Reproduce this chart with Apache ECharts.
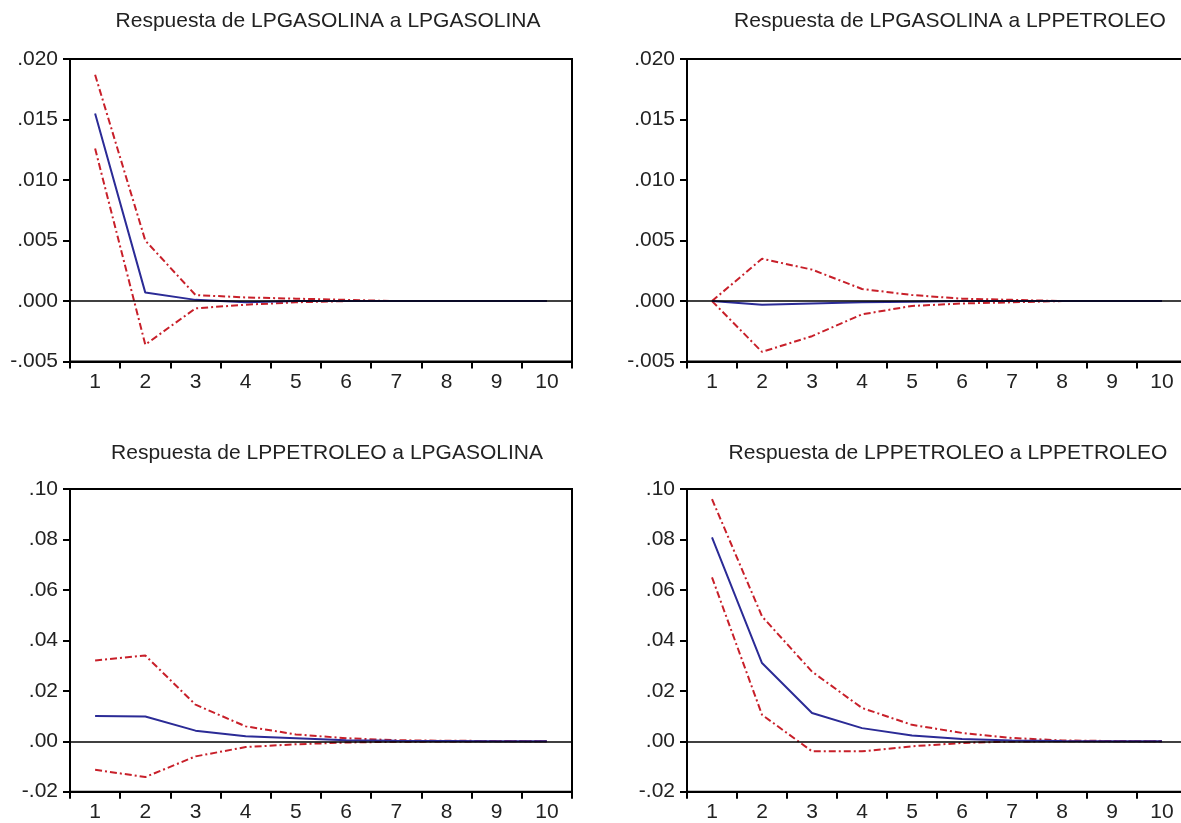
<!DOCTYPE html>
<html>
<head>
<meta charset="utf-8">
<script src="https://cdn.jsdelivr.net/npm/echarts@6/dist/echarts.min.js"></script>
<style>
html,body{margin:0;padding:0;background:#fff;overflow:hidden;}
#chart{width:1192px;height:823px;}
</style>
</head>
<body>
<div id="chart"></div>
<script>
// Periods
var periods = ['1','2','3','4','5','6','7','8','9','10'];

// Titles
var titles = [
  'Respuesta de LPGASOLINA a LPGASOLINA',
  'Respuesta de LPGASOLINA a LPPETROLEO',
  'Respuesta de LPPETROLEO a LPGASOLINA',
  'Respuesta de LPPETROLEO a LPPETROLEO'
];

// Panel 1: LPGASOLINA a LPGASOLINA
var gasGasResp = [0.0155, 0.0007, 0.0001, -0.0001, 0.0000, 0.0000, 0, 0, 0, 0];
var gasGasUp   = [0.0187, 0.0050, 0.0005, 0.0003, 0.0002, 0.0001, 0, 0, 0, 0];
var gasGasLo   = [0.0126, -0.0036, -0.0006, -0.0003, -0.0001, 0, 0, 0, 0, 0];

// Panel 2: LPGASOLINA a LPPETROLEO
var gasPetResp = [0, -0.0003, -0.0002, -0.0001, -0.00005, 0, 0, 0, 0, 0];
var gasPetUp   = [0, 0.0035, 0.0026, 0.0010, 0.0005, 0.0002, 0.0001, 0, 0, 0];
var gasPetLo   = [0, -0.0042, -0.0029, -0.0011, -0.0004, -0.0002, -0.0001, 0, 0, 0];

// Panel 3: LPPETROLEO a LPGASOLINA
var petGasResp = [0.0100, 0.0098, 0.0042, 0.0020, 0.0012, 0.0004, 0.0002, 0.0001, 0, 0];
var petGasUp   = [0.0320, 0.0340, 0.0145, 0.0059, 0.0027, 0.0012, 0.0004, 0.0002, 0.0001, 0];
var petGasLo   = [-0.0113, -0.0142, -0.0060, -0.0023, -0.0012, -0.0005, -0.0002, -0.0001, 0, 0];

// Panel 4: LPPETROLEO a LPPETROLEO
var petPetResp = [0.0808, 0.0310, 0.0112, 0.0052, 0.0023, 0.0009, 0.0003, 0.0001, 0, 0];
var petPetUp   = [0.0960, 0.0495, 0.0276, 0.0132, 0.0065, 0.0033, 0.0013, 0.0003, 0.0001, 0];
var petPetLo   = [0.0650, 0.0105, -0.0040, -0.0040, -0.0020, -0.0007, -0.0001, 0, 0, 0];

// Y axis settings
var topMin = -0.005, topMax = 0.020, topStep = 0.005;
var botMin = -0.02, botMax = 0.10, botStep = 0.02;

var panels = [
  {resp: gasGasResp, up: gasGasUp, lo: gasGasLo},
  {resp: gasPetResp, up: gasPetUp, lo: gasPetLo},
  {resp: petGasResp, up: petGasUp, lo: petGasLo},
  {resp: petPetResp, up: petPetUp, lo: petPetLo}
];

var FONT = 'Liberation Sans, Arial, sans-serif';
var grids = [
  {left: 70, top: 59, width: 502, height: 302.6},
  {left: 687, top: 59, width: 500, height: 302.6},
  {left: 70, top: 489, width: 502, height: 302.7},
  {left: 687, top: 489, width: 500, height: 302.7}
];
var titlePos = [
  {left: 323, top: 6},
  {left: 945, top: 6},
  {left: 322, top: 438},
  {left: 943, top: 438}
];

function fmt(dec) {
  return function (v) {
    var s = (Math.round(v * 1e6) / 1e6).toFixed(dec);
    return s.replace('0.', '.');
  };
}

var option = {
  backgroundColor: '#ffffff',
  animation: false,
  title: titles.map(function (t, i) {
    return {
      text: t,
      left: titlePos[i].left,
      top: titlePos[i].top,
      textAlign: 'center',
      textStyle: {fontFamily: FONT, fontSize: 21, fontWeight: 'normal', color: '#222'}
    };
  }),
  grid: grids.map(function (g) {
    return {left: g.left, top: g.top, width: g.width, height: g.height,
      show: true, borderColor: '#000', borderWidth: 2, backgroundColor: 'transparent'};
  }),
  xAxis: grids.map(function (g, i) {
    return {
      type: 'category', gridIndex: i, data: periods, boundaryGap: true,
      axisLine: {onZero: false, lineStyle: {color: '#000', width: 2}},
      axisTick: {show: true, interval: 0, length: 7, inside: false, lineStyle: {color: '#000', width: 2}},
      axisLabel: {interval: 0, margin: 10, color: '#222', fontFamily: FONT, fontSize: 21},
      splitLine: {show: false}
    };
  }),
  yAxis: grids.map(function (g, i) {
    var top = i < 2;
    return {
      type: 'value', gridIndex: i,
      min: top ? topMin : botMin, max: top ? topMax : botMax, interval: top ? topStep : botStep,
      axisLine: {show: true, onZero: false, lineStyle: {color: '#000', width: 2}},
      axisTick: {show: true, length: 7, lineStyle: {color: '#000', width: 2}},
      axisLabel: {margin: 12, color: '#222', fontFamily: FONT, fontSize: 21, formatter: fmt(top ? 3 : 2)},
      splitLine: {show: false}
    };
  }),
  series: []
};

panels.forEach(function (p, i) {
  option.series.push({
    type: 'line', xAxisIndex: i, yAxisIndex: i, data: p.up, symbol: 'none',
    lineStyle: {color: '#C8202A', width: 2, type: [7, 3, 2, 3]}, z: 3,
    markLine: {silent: true, symbol: 'none', label: {show: false},
      lineStyle: {color: '#000', width: 1.5, type: 'solid'}, data: [{yAxis: 0}]}
  });
  option.series.push({
    type: 'line', xAxisIndex: i, yAxisIndex: i, data: p.lo, symbol: 'none',
    lineStyle: {color: '#C8202A', width: 2, type: [7, 3, 2, 3]}, z: 3
  });
  option.series.push({
    type: 'line', xAxisIndex: i, yAxisIndex: i, data: p.resp, symbol: 'none',
    lineStyle: {color: '#2B2B96', width: 2, type: 'solid'}, z: 4
  });
});

var chart = echarts.init(document.getElementById('chart'), null, {renderer: 'canvas'});
chart.setOption(option);
</script>
</body>
</html>
